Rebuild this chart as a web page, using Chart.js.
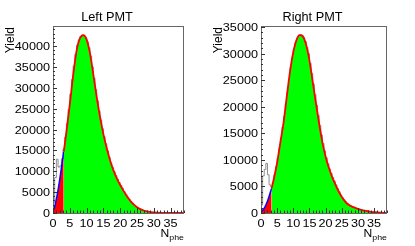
<!DOCTYPE html>
<html><head><meta charset="utf-8">
<script src="https://cdn.jsdelivr.net/npm/chart.js@4.4.1/dist/chart.umd.min.js"></script>
<style>
html,body{margin:0;padding:0;background:#fff;}
#wrap{position:relative;width:415px;height:246px;overflow:hidden;background:#fff}
.pane{position:absolute;top:0;height:246px}
#p1{left:0;width:207px}
#p2{left:207px;width:208px}
</style></head><body>
<div id="wrap"><div class="pane" id="p1"><canvas id="c1" width="207" height="246"></canvas></div><div class="pane" id="p2"><canvas id="c2" width="208" height="246"></canvas></div></div>
<script>
// ---------- data ----------
const binWidth = 0.5;           // histogram bin width in N_phe
const xTickValues = [0, 5, 10, 15, 20, 25, 30, 35];
const leftYTicks = [0, 5000, 10000, 15000, 20000, 25000, 30000, 35000, 40000];
const rightYTicks = [0, 5000, 10000, 15000, 20000, 25000, 30000, 35000];

const leftCounts = [
  2500, 8500, 12900, 11000, 11300, 13000, 15300, 18200, 21500, 24800,
  28500, 32000, 35200, 38000, 40200, 41500, 42300, 42600, 42500, 42000,
  41000, 39600, 37600, 35000, 32300, 29600, 26900, 24500, 22300, 20200,
  18300, 16600, 14900, 13400, 12000, 10900, 9900, 9000, 8100, 7300,
  6600, 5900, 5100, 4500, 3800, 3300, 2700, 2300, 1900, 1600,
  1300, 1100, 880, 720, 580, 450, 360, 280, 220, 170,
  130, 100, 80, 60, 50, 40, 30, 25, 20, 15,
  10, 8, 6, 5, 4, 3, 2, 2];
const rightCounts = [
  1500, 7000, 8200, 9350, 7200, 5300, 4900, 5700, 7200, 8700,
  10300, 12200, 14200, 16200, 18200, 20400, 22800, 25200, 27400, 29200,
  30800, 32000, 32900, 33400, 33600, 33500, 33000, 32300, 31200, 30000,
  28200, 26300, 24300, 22300, 20300, 18400, 16500, 14700, 13100, 11700,
  10400, 9300, 8300, 7500, 6700, 6000, 5300, 4600, 4000, 3400,
  2900, 2500, 2100, 1800, 1550, 1350, 1200, 1080, 960, 840,
  760, 660, 580, 510, 440, 380, 320, 270, 220, 180,
  150, 120, 100, 80, 65, 50, 35, 25];

// low-N_phe component (blue curve, red area)
const leftBgX = [0, 0.5, 1, 1.5, 2, 2.5, 3, 3.2];
const leftBgY = [500, 1500, 3300, 5500, 8000, 10800, 13600, 14700];
const rightBgX = [0, 0.5, 1, 1.5, 2, 2.5, 3, 3.3];
const rightBgY = [200, 500, 900, 1500, 2200, 3100, 4100, 4650];

// fitted signal (red curve, green area)
const leftFitX = [3.2, 4, 5, 6, 7, 8, 9, 10, 11, 12, 13, 14, 15, 16, 17, 18, 19, 20, 21, 22, 23, 24, 25, 26, 27, 28, 29, 30, 31, 32, 33, 34, 35, 36, 37, 38, 39];
const leftFitY = [14700, 19500, 26000, 33000, 38800, 41800, 42600, 41600, 38300, 33200, 27800, 23000, 18900, 15500, 12600, 10200, 8300, 6700, 5300, 4000, 2900, 2050, 1400, 930, 600, 380, 230, 140, 85, 50, 30, 20, 10, 6, 4, 2, 1];
const rightFitX = [3.3, 4, 5, 6, 7, 8, 9, 10, 11, 12, 13, 14, 15, 16, 17, 18, 19, 20, 21, 22, 23, 24, 25, 26, 27, 28, 29, 30, 31, 32, 33, 34, 35, 36, 37, 38, 39];
const rightFitY = [4650, 6500, 9500, 13300, 17100, 22000, 26700, 30300, 32600, 33500, 33200, 31600, 28700, 24700, 20700, 16800, 13300, 10600, 8500, 6800, 5400, 4100, 3000, 2200, 1600, 1250, 1000, 780, 600, 450, 330, 230, 160, 110, 70, 40, 25];

// ---------- drawing ----------
const FONT = '"Liberation Sans", Arial, Helvetica, sans-serif';
function txt(ctx, s, x, y, size, align, sx, rot) {
  ctx.save();
  ctx.translate(x, y);
  if (rot) ctx.rotate(rot);
  ctx.scale(sx, 1);
  ctx.font = size + 'px ' + FONT;
  ctx.textAlign = align;
  ctx.textBaseline = 'alphabetic';
  ctx.fillStyle = '#000';
  ctx.fillText(s, 0, 0);
  ctx.restore();
}

function decor(title, titleX, yTitleX) {
  return {
    id: 'decor',
    afterDraw(chart) {
      const ctx = chart.ctx, a = chart.chartArea;
      const xs = chart.scales.x, ys = chart.scales.y;
      ctx.save();
      // frame
      ctx.strokeStyle = '#666';
      ctx.lineWidth = 1;
      ctx.strokeRect(Math.round(a.left) + 0.5, Math.round(a.top) + 0.5, Math.round(a.right - a.left) - 1, Math.round(a.bottom - a.top));
      // ticks
      ctx.strokeStyle = '#333';
      ctx.beginPath();
      for (let v = 0; v <= xs.max; v += 1) {
        const px = Math.round(xs.getPixelForValue(v)) + 0.5;
        const len = (v % 5 === 0) ? 5 : 2.5;
        ctx.moveTo(px, a.bottom); ctx.lineTo(px, a.bottom - len);
      }
      for (let v = 0; v <= ys.max; v += 1000) {
        const py = Math.round(ys.getPixelForValue(v)) + 0.5;
        const len = (v % 5000 === 0) ? 4 : 2;
        ctx.moveTo(a.left, py); ctx.lineTo(a.left + len, py);
      }
      ctx.stroke();
      ctx.restore();
      // tick labels
      xs.ticks.forEach(t => txt(ctx, String(t.value), xs.getPixelForValue(t.value), 227, 11, 'center', 1.15));
      ys.ticks.forEach(t => txt(ctx, String(t.value), a.left - 3, ys.getPixelForValue(t.value) + 4, 11, 'right', 1.15));
      // titles
      txt(ctx, title, titleX, 21, 12, 'center', 1.06);
      txt(ctx, 'Yield', yTitleX, 27, 12, 'right', 1.0, -Math.PI / 2);
      // N_phe
      ctx.save();
      ctx.font = '8px ' + FONT;
      const wSub = ctx.measureText('phe').width * 1.1;
      ctx.restore();
      txt(ctx, 'phe', a.right, 240, 8, 'right', 1.1);
      txt(ctx, 'N', a.right - wSub, 237, 11, 'right', 1.1);
    }
  };
}

function makeChart(id, counts, bgX, bgY, fitX, fitY, yTicks, yMax, padRight, yWidth, title, titleX, yTitleX) {
  const hist = counts.map((c, i) => ({ x: i * binWidth, y: c }));
  hist.push({ x: counts.length * binWidth, y: counts[counts.length - 1] });
  return new Chart(document.getElementById(id), {
    type: 'line',
    data: {
      datasets: [
        { // fitted signal: red line over green area
          data: fitX.map((x, i) => ({ x, y: fitY[i] })),
          borderColor: '#ff0000', borderWidth: 1.8, backgroundColor: '#00ff00',
          fill: 'origin', pointRadius: 0, cubicInterpolationMode: 'monotone'
        },
        { // low component: blue line over red area
          data: bgX.map((x, i) => ({ x, y: bgY[i] })),
          borderColor: '#0000ff', borderWidth: 1.5, backgroundColor: '#ff0000',
          fill: 'origin', pointRadius: 0, cubicInterpolationMode: 'monotone'
        },
        { // measured histogram
          data: hist, stepped: 'before',
          borderColor: '#8c8c8c', borderWidth: 1, fill: false, pointRadius: 0
        }
      ]
    },
    options: {
      responsive: false, animation: false, devicePixelRatio: 1,
      layout: { padding: { top: 26, right: padRight, left: 0, bottom: 0 } },
      plugins: { legend: { display: false }, tooltip: { enabled: false }, title: { display: false } },
      scales: {
        x: {
          type: 'linear', min: 0, max: 39,
          afterBuildTicks: s => { s.ticks = xTickValues.map(v => ({ value: v })); },
          afterFit: s => { s.height = 33; },
          ticks: { display: false }, grid: { display: false, drawTicks: false }, border: { display: false }
        },
        y: {
          type: 'linear', min: 0, max: yMax,
          afterBuildTicks: s => { s.ticks = yTicks.map(v => ({ value: v })); },
          afterFit: s => { s.width = yWidth; },
          ticks: { display: false }, grid: { display: false, drawTicks: false }, border: { display: false }
        }
      }
    },
    plugins: [decor(title, titleX, yTitleX)]
  });
}

makeChart('c1', leftCounts, leftBgX, leftBgY, leftFitX, leftFitY, leftYTicks, 44800, 23, 53, 'Left PMT', 107, 14);
makeChart('c2', rightCounts, rightBgX, rightBgY, rightFitX, rightFitY, rightYTicks, 35200, 28, 54, 'Right PMT', 105.5, 15);
</script>
</body></html>
